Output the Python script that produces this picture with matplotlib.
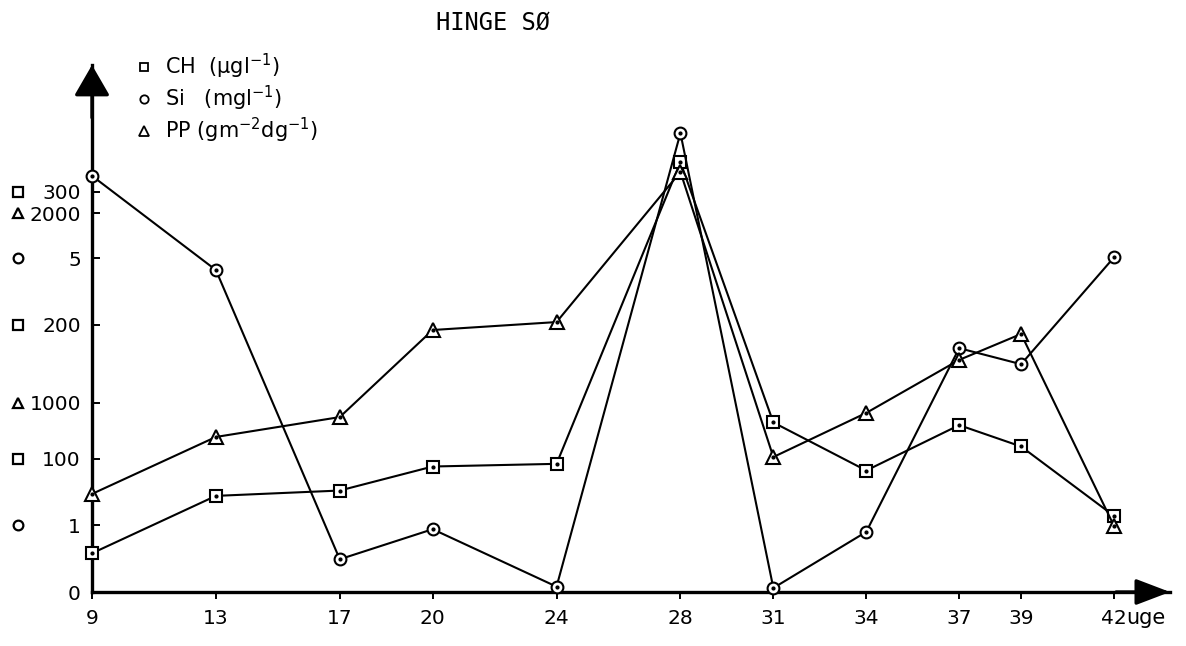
import matplotlib
matplotlib.use("Agg")
import matplotlib.pyplot as plt
import matplotlib.transforms as mtransforms
from matplotlib.lines import Line2D

plt.rcParams['font.family'] = ['DejaVu Sans']
plt.rcParams['mathtext.default'] = 'regular'

# weeks (uge)
weeks = [9, 13, 17, 20, 24, 28, 31, 34, 37, 39, 42]
week_labels = ['9', '13', '17', '20', '24', '28', '31', '34', '37', '39', '42']

# chlorophyll CH (ug/l)
ch = [29, 72, 76, 94, 96, 322, 127, 91, 125, 109, 57]
# silicate Si (mg/l)
si = [6.23, 4.82, 0.49, 0.94, 0.08, 6.87, 0.06, 0.90, 3.65, 3.41, 5.01]
# primary production PP
pp = [518, 819, 924, 1384, 1426, 2219, 713, 946, 1226, 1363, 349]

ch_ticks = [100, 200, 300]
si_ticks = [0, 1, 5]
pp_ticks = [1000, 2000]

W, H = 1186, 646
fig = plt.figure(figsize=(W / 100, H / 100), dpi=100)
x0, x1 = 92, 1170
y_axis, y_top = 592, 65
ax = fig.add_axes([x0 / W, 1 - y_axis / H, (x1 - x0) / W, (y_axis - y_top) / H])
ax.patch.set_alpha(0)

# one y pixel scale per quantity, all sharing zero at the x axis
span = y_axis - y_top
ax.set_ylim(0, span / 1.335)
ax_si = ax.twinx()
ax_si.set_ylim(0, span / 66.8)
ax_pp = ax.twinx()
ax_pp.set_ylim(0, span / 0.1893)
ax.set_xlim(9, 9 + (x1 - x0) / 30.97)

lw = 1.5
for a, vals, mk, ms in [(ax, ch, 's', 8), (ax_si, si, 'o', 8.5), (ax_pp, pp, '^', 9.5)]:
    a.plot(weeks, vals, color='k', lw=lw, marker=mk, ms=ms, mfc='white', mec='k',
           mew=1.5, clip_on=False, zorder=3)
    a.plot(weeks, vals, ls='none', marker='o', ms=2, color='k', clip_on=False, zorder=4)

for a in (ax, ax_si, ax_pp):
    for s in a.spines.values():
        s.set_visible(False)
    a.yaxis.set_ticks_position('left')
    a.tick_params(axis='y', direction='in', length=6, width=1.4, pad=8, labelsize=14.5,
                  left=True, labelleft=True, right=False, labelright=False)

ax.spines['left'].set_visible(True)
ax.spines['bottom'].set_visible(True)
ax.spines['left'].set_linewidth(2.4)
ax.spines['bottom'].set_linewidth(2.4)

ax.set_xticks(weeks)
ax.set_xticklabels(week_labels)
ax.tick_params(axis='x', direction='out', length=5, width=1.4, pad=7, labelsize=14.5)

ax.set_yticks(ch_ticks)
ax.set_yticklabels([str(t) for t in ch_ticks])
ax_si.set_yticks(si_ticks)
ax_si.set_yticklabels([str(t) for t in si_ticks])
ax_pp.set_yticks(pp_ticks)
ax_pp.set_yticklabels([str(t) for t in pp_ticks])

# symbol in front of each tick label
sym_x = 18 / W
for a, ticks, mk in [(ax, ch_ticks, 's'), (ax_si, si_ticks[1:], 'o'), (ax_pp, pp_ticks, '^')]:
    tr = mtransforms.blended_transform_factory(fig.transFigure, a.transData)
    for t in ticks:
        a.plot([sym_x], [t], marker=mk, ms=7, mfc='white', mec='k', mew=1.6,
               transform=tr, clip_on=False)

# arrow heads on the axes
ax.annotate('', xy=(0, 1), xytext=(0, 0.9), xycoords='axes fraction',
            arrowprops=dict(arrowstyle='-|>,head_length=0.95,head_width=0.55',
                            color='k', lw=2.4, mutation_scale=20, shrinkA=0, shrinkB=0),
            annotation_clip=False)
ax.annotate('', xy=(1, 0), xytext=(0.95, 0), xycoords='axes fraction',
            arrowprops=dict(arrowstyle='-|>,head_length=1.05,head_width=0.4',
                            color='k', lw=2.4, mutation_scale=20, shrinkA=0, shrinkB=0),
            annotation_clip=False)

ax.annotate('uge', xy=(42, 0), xycoords=('data', 'axes fraction'), xytext=(9, -11.5),
            textcoords='offset points', ha='left', va='top', fontsize=15)

fig.text(493 / W, 1 - 22 / H, 'HINGE SØ', ha='center', va='center', fontsize=17,
         family='DejaVu Sans Mono')

handles = [
    Line2D([], [], ls='none', marker='s', ms=6, mfc='white', mec='k', mew=1.3),
    Line2D([], [], ls='none', marker='o', ms=6, mfc='white', mec='k', mew=1.3),
    Line2D([], [], ls='none', marker='^', ms=7, mfc='white', mec='k', mew=1.3),
]
labels = [r'CH  ($\mu$gl$^{-1}$)', r'Si   (mgl$^{-1}$)', r'PP (gm$^{-2}$dg$^{-1}$)']
fig.legend(handles, labels, loc='upper left', bbox_to_anchor=(125 / W, 1 - 41 / H),
           frameon=False, fontsize=15, handlelength=0.8, handletextpad=0.6,
           labelspacing=0.15, borderpad=0)

fig.savefig('out.png', dpi=100)
